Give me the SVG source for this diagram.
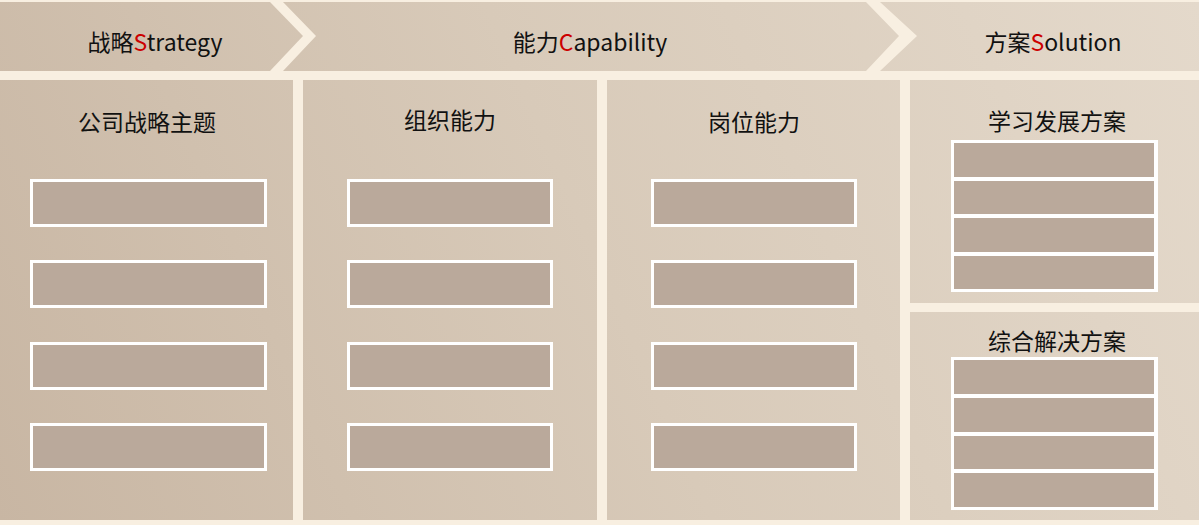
<svg xmlns="http://www.w3.org/2000/svg" width="1199" height="525" viewBox="0 0 1199 525">
<defs>
<linearGradient id="g" gradientUnits="userSpaceOnUse" x1="0" y1="525" x2="1199" y2="0">
<stop offset="0" stop-color="#c8b6a3"/>
<stop offset="0.5" stop-color="#d8cab9"/>
<stop offset="1" stop-color="#e4d9cb"/>
</linearGradient>
<style>
.panel{fill:url(#g)}
.box{fill:#baa99b;stroke:#ffffff;stroke-width:3}
.cell{fill:#baa99b}
.frame{fill:#ffffff}
.hd{font-family:"Noto Sans CJK SC","Noto Sans",sans-serif;font-size:23px;font-weight:400;fill:#111111;text-anchor:middle}
.ti{font-family:"Noto Sans CJK SC","Noto Sans",sans-serif;font-size:23px;fill:#111111;text-anchor:middle}
.red{fill:#cc0000}
</style>
</defs>
<rect x="0" y="0" width="1199" height="525" fill="#f8efe1"/>
<g id="header-strategy">
<polygon class="panel" points="0,2 270,2 303,36 270,71 0,71"/>
<text class="hd" x="155" y="51">战略<tspan class="red">S</tspan>trategy</text>
</g>
<g id="header-capability">
<polygon class="panel" points="283,2 866,2 899,36 866,71 283,71 316,36"/>
<text class="hd" x="590" y="51">能力<tspan class="red">C</tspan>apability</text>
</g>
<g id="header-solution">
<polygon class="panel" points="880,2 1199,2 1199,71 880,71 917,36"/>
<text class="hd" x="1053" y="51">方案<tspan class="red">S</tspan>olution</text>
</g>
<g id="col-strategy">
<rect class="panel" x="0" y="80" width="293" height="440"/>
<text class="ti" x="147" y="131">公司战略主题</text>
<rect class="box" x="31.5" y="180.5" width="234" height="45"/>
<rect class="box" x="31.5" y="261.5" width="234" height="45"/>
<rect class="box" x="31.5" y="343.5" width="234" height="45"/>
<rect class="box" x="31.5" y="424.5" width="234" height="45"/>
</g>
<g id="col-org">
<rect class="panel" x="303" y="80" width="294" height="440"/>
<text class="ti" x="450" y="129">组织能力</text>
<rect class="box" x="348.5" y="180.5" width="203" height="45"/>
<rect class="box" x="348.5" y="261.5" width="203" height="45"/>
<rect class="box" x="348.5" y="343.5" width="203" height="45"/>
<rect class="box" x="348.5" y="424.5" width="203" height="45"/>
</g>
<g id="col-job">
<rect class="panel" x="607" y="80" width="293" height="440"/>
<text class="ti" x="754" y="131">岗位能力</text>
<rect class="box" x="652.5" y="180.5" width="203" height="45"/>
<rect class="box" x="652.5" y="261.5" width="203" height="45"/>
<rect class="box" x="652.5" y="343.5" width="203" height="45"/>
<rect class="box" x="652.5" y="424.5" width="203" height="45"/>
</g>
<g id="col-learning">
<rect class="panel" x="910" y="80" width="289" height="223"/>
<text class="ti" x="1057" y="130">学习发展方案</text>
<rect class="frame" x="951" y="140" width="207" height="152"/>
<rect class="cell" x="954" y="143" width="200" height="34"/>
<rect class="cell" x="954" y="181" width="200" height="33"/>
<rect class="cell" x="954" y="218" width="200" height="34"/>
<rect class="cell" x="954" y="256" width="200" height="33"/>
</g>
<g id="col-integrated">
<rect class="panel" x="910" y="312" width="289" height="208"/>
<text class="ti" x="1057" y="350">综合解决方案</text>
<rect class="frame" x="951" y="357" width="207" height="153"/>
<rect class="cell" x="954" y="360" width="200" height="34"/>
<rect class="cell" x="954" y="398" width="200" height="34"/>
<rect class="cell" x="954" y="436" width="200" height="33"/>
<rect class="cell" x="954" y="473" width="200" height="34"/>
</g>
<g id="connectors"/>
</svg>
